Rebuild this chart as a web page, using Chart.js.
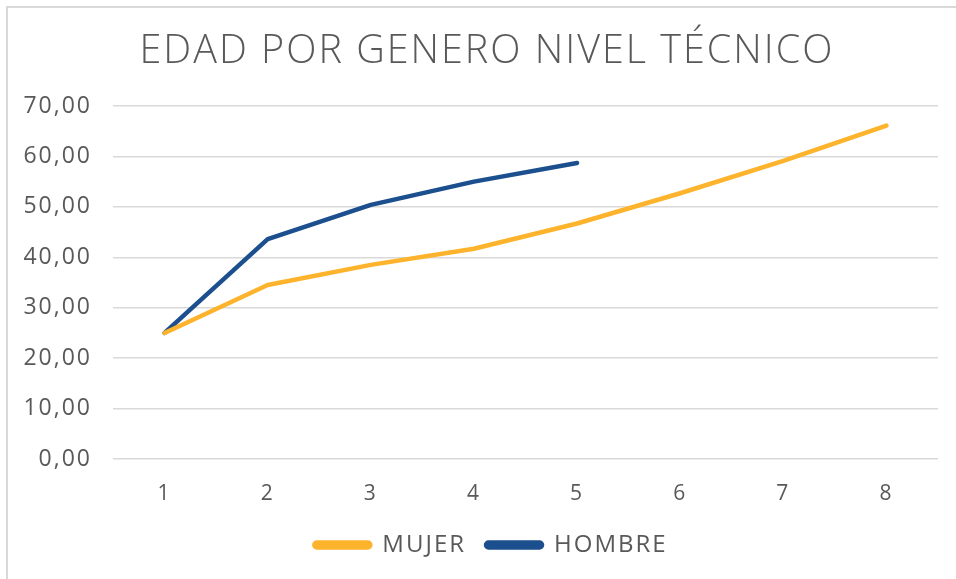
<!DOCTYPE html>
<html>
<head>
<meta charset="utf-8">
<script src="https://cdn.jsdelivr.net/npm/chart.js@4"></script>
<style>
  html, body { margin: 0; padding: 0; background: #fff; overflow: hidden; }
  #wrap { position: relative; width: 956px; height: 579px; }
  #frame { position: absolute; left: 6px; top: 6px; width: 1000px; height: 700px;
           border-left: 2px solid #d9d9d9; border-top: 2px solid #d9d9d9; }
  canvas { position: absolute; left: 0; top: 0; }
</style>
</head>
<body>
<div id="wrap">
  <div id="frame"></div>
  <canvas id="c" width="956" height="579"></canvas>
</div>
<script>
const titleText = "EDAD POR GENERO NIVEL TÉCNICO";
const categories = ["1", "2", "3", "4", "5", "6", "7", "8"];
const mujer = [25.0, 34.5, 38.5, 41.7, 46.7, 52.7, 59.1, 66.1];
const hombre = [25.0, 43.6, 50.4, 55.0, 58.7];
const seriesNames = ["MUJER", "HOMBRE"];

const FONT = "'Open Sans', 'DejaVu Sans', sans-serif";
const TXT = "#595959";

const setSp = chart => { chart.ctx.letterSpacing = "2px"; };
function shiftBox(chart, box, dx, dy) {
  if (!box || box.__shifted) return;
  const orig = box.draw.bind(box);
  box.draw = function (area) {
    const ctx = chart.ctx;
    ctx.save();
    ctx.translate(dx, dy);
    orig(area);
    ctx.restore();
  };
  box.__shifted = true;
}
const spacingPlugin = {
  id: "spacing",
  beforeInit: setSp,
  afterInit(chart) {
    setSp(chart);
    shiftBox(chart, chart.titleBlock, 18, 0);
    shiftBox(chart, chart.legend, 22, -6);
  },
  beforeUpdate: setSp,
  beforeLayout: setSp,
  beforeDraw: setSp,
  beforeDatasetsDraw: setSp,
  afterDatasetsDraw: setSp
};

new Chart(document.getElementById("c"), {
  type: "line",
  plugins: [spacingPlugin],
  data: {
    labels: categories,
    datasets: [
      { label: seriesNames[0], data: mujer, borderColor: "#FDB32B", backgroundColor: "#FDB32B",
        borderWidth: 4.5, pointRadius: 0, tension: 0, borderCapStyle: "round", borderJoinStyle: "round" },
      { label: seriesNames[1], data: hombre, borderColor: "#1B4F8E", backgroundColor: "#1B4F8E",
        borderWidth: 4.5, pointRadius: 0, tension: 0, borderCapStyle: "round", borderJoinStyle: "round" }
    ]
  },
  options: {
    responsive: false,
    animation: false,
    events: [],
    layout: { padding: { left: 0, right: 18, top: 6, bottom: 6 } },
    scales: {
      y: {
        min: 0, max: 70,
        ticks: { stepSize: 10, color: TXT, font: { family: FONT, size: 23 }, padding: 21,
                 callback: v => v.toFixed(2).replace(".", ",") },
        grid: { color: "#d9d9d9", lineWidth: 1.5, drawTicks: false },
        border: { display: false },
        afterFit: s => { s.width = 113; }
      },
      x: {
        offset: true,
        ticks: { color: TXT, font: { family: FONT, size: 21 }, padding: 22, maxRotation: 0 },
        grid: { display: false, drawTicks: false },
        border: { display: false },
        afterFit: s => { s.height = 60; }
      }
    },
    plugins: {
      title: {
        display: true, text: titleText, color: TXT,
        font: { family: FONT, size: 39.5, weight: 300 },
        padding: { top: 22, bottom: 30.6 }
      },
      legend: {
        position: "bottom",
        labels: {
          color: TXT, font: { family: FONT, size: 24 },
          boxWidth: 56, boxHeight: 5, padding: 20, useBorderRadius: true, borderRadius: 2.5
        }
      },
      tooltip: { enabled: false }
    }
  }
});
</script>
</body>
</html>
